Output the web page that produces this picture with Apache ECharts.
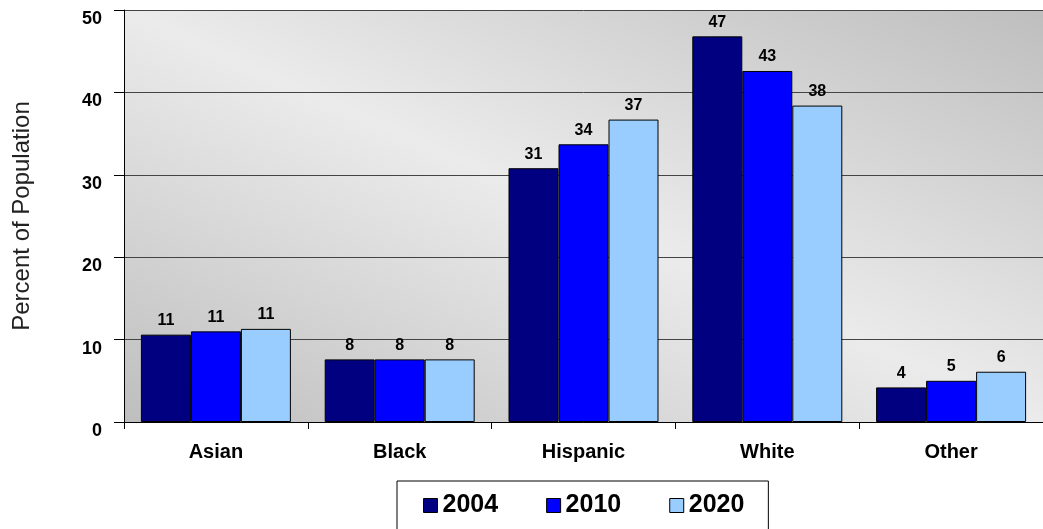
<!DOCTYPE html>
<html><head><meta charset="utf-8">
<script src="https://cdn.jsdelivr.net/npm/echarts@6/dist/echarts.min.js"></script>
<style>html,body{margin:0;padding:0;background:#fff}#c{width:1043px;height:529px}</style>
</head><body><div id="c"></div>
<script>
const categories = ["Asian", "Black", "Hispanic", "White", "Other"];
const years = ["2004", "2010", "2020"];
const values2004 = [10.6, 7.6, 30.8, 46.8, 4.2];
const values2010 = [11.0, 7.6, 33.7, 42.6, 5.0];
const values2020 = [11.3, 7.6, 36.7, 38.4, 6.1];
const colors = ["#000080", "#0000ff", "#99ccff"];
const yTitle = "Percent of Population";

const font = "Liberation Sans, Arial, sans-serif";
const chart = echarts.init(document.getElementById('c'));
const seriesData = [values2004, values2010, values2020];
chart.setOption({
  animation: false,
  textStyle: {fontFamily: font},
  grid: {
    left: 124, right: 0, top: 10, bottom: 107, show: true, borderWidth: 0,
    backgroundColor: new echarts.graphic.LinearGradient(430, 559, 737, -127, [
      {offset: 0, color: '#bebebe'},
      {offset: 0.5, color: '#ebebeb'},
      {offset: 1, color: '#bebebe'}
    ], true)
  },
  legend: {
    data: years,
    left: 397, top: 481,
    backgroundColor: '#fff',
    borderColor: '#000', borderWidth: 1,
    padding: [12, 24, 16, 26],
    itemGap: 48, itemWidth: 14, itemHeight: 14, icon: 'rect',
    itemStyle: {borderColor: '#000', borderWidth: 1},
    textStyle: {fontFamily: font, fontSize: 25, fontWeight: 'bold', color: '#000'}
  },
  xAxis: {
    type: 'category', data: categories,
    axisLine: {lineStyle: {color: '#000', width: 1}},
    axisTick: {show: true, length: 7, lineStyle: {color: '#000'}},
    axisLabel: {fontFamily: font, fontSize: 20, fontWeight: 'bold', color: '#000', margin: 20}
  },
  yAxis: {
    type: 'value', min: 0, max: 50, interval: 10,
    name: yTitle, nameLocation: 'middle', nameGap: 90, nameRotate: 90,
    nameTextStyle: {fontFamily: font, fontSize: 24, color: '#222'},
    axisLine: {show: true, lineStyle: {color: '#000', width: 1}},
    axisTick: {show: true, length: 10, lineStyle: {color: '#000'}},
    axisLabel: {fontFamily: font, fontSize: 18, fontWeight: 'bold', color: '#000', margin: 22, verticalAlign: 'top'},
    splitLine: {lineStyle: {color: '#444', width: 1}}
  },
  series: years.map((y, i) => ({
    name: y, type: 'bar', data: seriesData[i],
    barWidth: 50, barGap: '0%',
    itemStyle: {color: colors[i], borderColor: '#000', borderWidth: 1},
    label: {show: true, position: 'top', distance: 6, fontFamily: font, fontSize: 16, fontWeight: 'bold', color: '#000',
      formatter: p => Math.round(p.value)}
  }))
});
</script></body></html>
